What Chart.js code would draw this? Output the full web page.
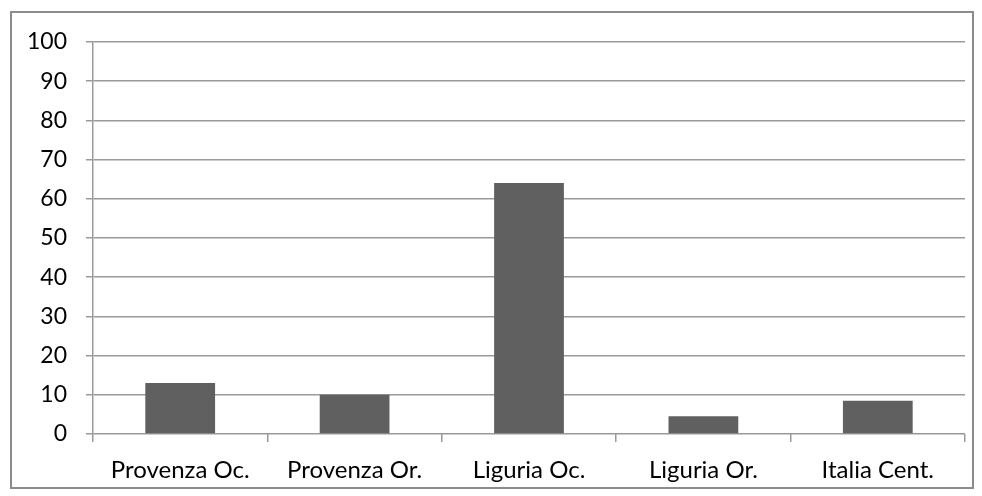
<!DOCTYPE html>
<html>
<head>
<meta charset="utf-8">
<script src="https://cdn.jsdelivr.net/npm/chart.js@4/dist/chart.umd.min.js"></script>
<style>
  html, body { margin: 0; padding: 0; background: #fff; }
  #frame {
    position: absolute; left: 10px; top: 11px;
    width: 964px; height: 478px;
    border: 2px solid #8c8c8c; box-sizing: border-box;
  }
  #wrap { position: absolute; left: 0; top: 0; width: 982px; height: 496px; }
</style>
</head>
<body>
<div id="frame"></div>
<div id="wrap"><canvas id="grafico"></canvas></div>
<script>
const categorias = ['Provenza Oc.', 'Provenza Or.', 'Liguria Oc.', 'Liguria Or.', 'Italia Cent.'];
const valori = [13, 10, 64, 4.5, 8.5];
const asseY = { min: 0, max: 100, passo: 10 };

const ctx = document.getElementById('grafico').getContext('2d');
Chart.defaults.font.family = 'Lato, "Liberation Sans", sans-serif';
Chart.defaults.font.size = 22;
Chart.defaults.color = '#000';

new Chart(ctx, {
    type: 'bar',
    data: {
        labels: categorias,
        datasets: [{
            data: valori,
            backgroundColor: '#606060',
            borderWidth: 0,
            barPercentage: 0.4,
            categoryPercentage: 1
        }]
    },
    options: {
        responsive: true,
        maintainAspectRatio: false,
        animation: false,
        layout: { padding: { top: 42, right: 17, left: 0, bottom: 0 } },
        plugins: { legend: { display: false }, tooltip: { enabled: false } },
        scales: {
            x: {
                offset: true,
                grid: { offset: true, drawOnChartArea: false, color: '#9a9a9a', lineWidth: 1.5, tickLength: 8 },
                border: { display: false },
                ticks: { padding: 14, maxRotation: 0, font: { size: 24 } },
                afterFit: s => { s.height = 62; }
            },
            y: {
                min: asseY.min, max: asseY.max,
                ticks: { stepSize: asseY.passo, padding: 19, font: { size: 23 } },
                grid: { color: '#9a9a9a', lineWidth: 1.5, tickLength: 7 },
                border: { color: '#9a9a9a', width: 1.5 },
                afterFit: s => { s.width = 93; }
            }
        }
    }
});
</script>
</body>
</html>
